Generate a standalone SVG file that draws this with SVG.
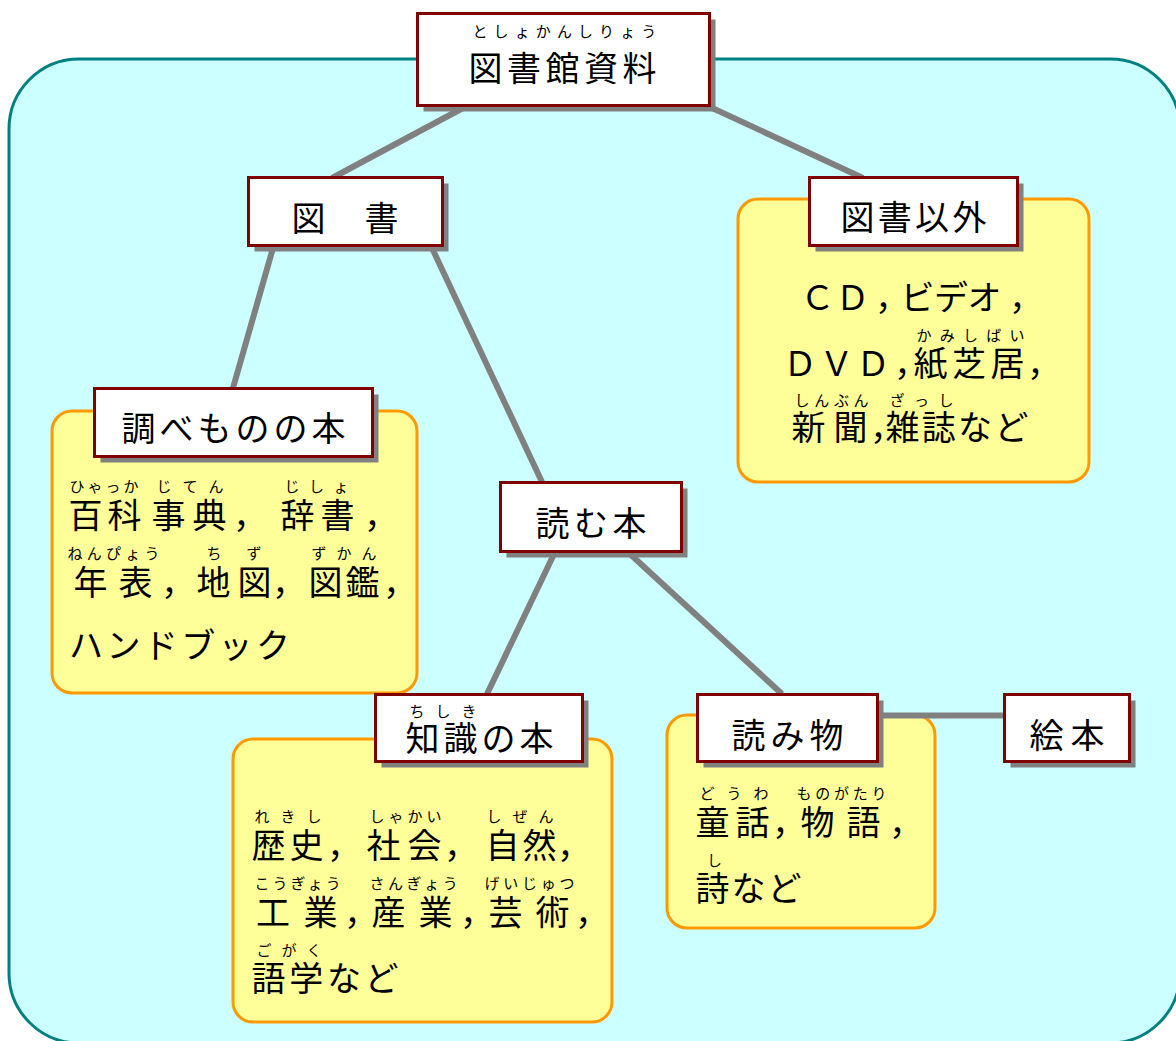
<svg xmlns="http://www.w3.org/2000/svg" width="1176" height="1041" viewBox="0 0 1176 1041">
<style>
text { font-family: "Noto Sans CJK JP", "Noto Sans", sans-serif; fill: #000; }
.m { font-size: 34px; }
.r { font-size: 15px; }
.panel { fill: #FFFF99; stroke: #FF9900; stroke-width: 3; }
.box { fill: #FFFFFF; stroke: #800000; stroke-width: 3; }
.shadow { fill: #808080; }
.edge { stroke: #808080; stroke-width: 6; fill: none; }
</style>
<rect x="0" y="0" width="1176" height="1041" fill="#FFFFFF"/>
<rect id="background" x="9" y="59" width="1171" height="984" rx="70" fill="#CCFFFF" stroke="#008080" stroke-width="3"/>

<g id="panel-shirabemono">
<rect class="panel" x="52" y="411" width="365" height="282" rx="20"/>
<text class="r" y="492"><tspan x="69.5" letter-spacing="3">ひゃっか</tspan><tspan x="156.5" letter-spacing="11">じてん</tspan><tspan x="284.5" letter-spacing="9.5">じしょ</tspan></text>
<text class="m" y="528"><tspan x="68.5" letter-spacing="5">百科</tspan><tspan x="151.5" letter-spacing="7">事典</tspan><tspan x="233">，</tspan><tspan x="280.5" letter-spacing="6">辞書</tspan><tspan x="364">，</tspan></text>
<text class="r" y="559"><tspan x="67.5" letter-spacing="4.25">ねんぴょう</tspan><tspan x="206.5" letter-spacing="25">ちず</tspan><tspan x="311.5" letter-spacing="10">ずかん</tspan></text>
<text class="m" y="595"><tspan x="73.5">年</tspan><tspan x="118.5">表</tspan><tspan x="161">，</tspan><tspan x="196.5" letter-spacing="7">地図</tspan><tspan x="272">，</tspan><tspan x="308.5" letter-spacing="3">図鑑</tspan><tspan x="383">，</tspan></text>
<text class="m" y="658" x="69" letter-spacing="3.4">ハンドブック</text>
</g>

<g id="panel-toshoigai">
<rect class="panel" x="738" y="199" width="351" height="283" rx="20"/>
<text class="m" y="310"><tspan x="800.5" letter-spacing="1">ＣＤ</tspan><tspan x="875">，</tspan><tspan x="900.5" letter-spacing="-0.5">ビデオ</tspan><tspan x="1009">，</tspan></text>
<text class="r" y="341" x="916.5" letter-spacing="8.25">かみしばい</text>
<text class="m" y="376"><tspan x="783" letter-spacing="2.5">ＤＶＤ</tspan><tspan x="894">，</tspan><tspan x="913.5" letter-spacing="4.5">紙芝居</tspan><tspan x="1027">，</tspan></text>
<text class="r" y="406"><tspan x="794.5" letter-spacing="4.7">しんぶん</tspan><tspan x="889.5" letter-spacing="9.5">ざっし</tspan></text>
<text class="m" y="440"><tspan x="791.5" letter-spacing="8">新聞</tspan><tspan x="870">，</tspan><tspan x="885.5" letter-spacing="2.3">雑誌など</tspan></text>
</g>

<g id="panel-chishiki">
<rect class="panel" x="233" y="739" width="379" height="283" rx="20"/>
<text class="r" y="822"><tspan x="254.5" letter-spacing="11">れきし</tspan><tspan x="369.5" letter-spacing="4">しゃかい</tspan><tspan x="486.5" letter-spacing="11">しぜん</tspan></text>
<text class="m" y="858"><tspan x="251.5" letter-spacing="4">歴史</tspan><tspan x="327">，</tspan><tspan x="366.5" letter-spacing="7">社会</tspan><tspan x="444">，</tspan><tspan x="485.5" letter-spacing="3">自然</tspan><tspan x="557">，</tspan></text>
<text class="r" y="889"><tspan x="254.5" letter-spacing="3">こうぎょう</tspan><tspan x="369.5" letter-spacing="3.5">さんぎょう</tspan><tspan x="484.5" letter-spacing="3.75">げいじゅつ</tspan></text>
<text class="m" y="925"><tspan x="256">工</tspan><tspan x="303.5">業</tspan><tspan x="344">，</tspan><tspan x="371.5">産</tspan><tspan x="418.5">業</tspan><tspan x="460">，</tspan><tspan x="488.5">芸</tspan><tspan x="535.5">術</tspan><tspan x="575">，</tspan></text>
<text class="r" y="956" x="256.5" letter-spacing="10">ごがく</text>
<text class="m" y="991" x="251.5" letter-spacing="3.7">語学など</text>
</g>

<g id="panel-yomimono">
<rect class="panel" x="667" y="715" width="268" height="213" rx="20"/>
<text class="r" y="799"><tspan x="699.5" letter-spacing="12">どうわ</tspan><tspan x="796.5" letter-spacing="3.75">ものがたり</tspan></text>
<text class="m" y="835"><tspan x="695.5" letter-spacing="6">童話</tspan><tspan x="772">，</tspan><tspan x="800.5">物</tspan><tspan x="846.5">語</tspan><tspan x="889">，</tspan></text>
<text class="r" y="866" x="707">し</text>
<text class="m" y="901" x="695.5" letter-spacing="2">詩など</text>
</g>

<g id="connectors">
<line class="edge" x1="463" y1="108" x2="332" y2="178"/>
<line class="edge" x1="710" y1="107" x2="863" y2="178"/>
<line class="edge" x1="273" y1="248" x2="233" y2="388"/>
<line class="edge" x1="432" y1="248" x2="542" y2="482"/>
<line class="edge" x1="555" y1="552" x2="487" y2="694"/>
<line class="edge" x1="630" y1="554" x2="782" y2="694"/>
<line class="edge" x1="878" y1="715.5" x2="1004" y2="715.5"/>
</g>

<g id="node-toshokan-shiryo">
<rect class="shadow" x="423.5" y="19.5" width="292" height="92"/>
<rect class="box" x="417.5" y="13.5" width="292" height="92"/>
<text class="r" x="472.5" y="37" letter-spacing="6.1">としょかんしりょう</text>
<text class="m" x="468.5" y="81" letter-spacing="4.5">図書館資料</text>
</g>

<g id="node-tosho">
<rect class="shadow" x="254.5" y="183.5" width="194" height="68"/>
<rect class="box" x="248.5" y="177.5" width="194" height="68"/>
<text class="m" x="291.5" y="231" letter-spacing="2.5">図　書</text>
</g>

<g id="node-tosho-igai">
<rect class="shadow" x="815.5" y="183.5" width="208" height="68"/>
<rect class="box" x="809.5" y="177.5" width="208" height="68"/>
<text class="m" x="840.5" y="230" letter-spacing="3.3">図書以外</text>
</g>

<g id="node-shirabemono">
<rect class="shadow" x="100.5" y="394.5" width="278" height="68"/>
<rect class="box" x="94.5" y="388.5" width="278" height="68"/>
<text class="m" x="121.5" y="441" letter-spacing="4">調べものの本</text>
</g>

<g id="node-yomu-hon">
<rect class="shadow" x="506.5" y="488.5" width="181" height="69"/>
<rect class="box" x="500.5" y="482.5" width="181" height="69"/>
<text class="m" x="535.5" y="536" letter-spacing="4.5">読む本</text>
</g>

<g id="node-chishiki">
<rect class="shadow" x="381.5" y="700.5" width="207" height="67"/>
<rect class="box" x="375.5" y="694.5" width="207" height="67"/>
<text class="r" x="409.5" y="717" letter-spacing="11">ちしき</text>
<text class="m" x="405.5" y="751" letter-spacing="4">知識の本</text>
</g>

<g id="node-yomimono">
<rect class="shadow" x="703.5" y="700.5" width="180" height="67"/>
<rect class="box" x="697.5" y="694.5" width="180" height="67"/>
<text class="m" x="731.5" y="748" letter-spacing="5">読み物</text>
</g>

<g id="node-ehon">
<rect class="shadow" x="1010.5" y="700.5" width="125" height="67"/>
<rect class="box" x="1004.5" y="694.5" width="125" height="67"/>
<text class="m" x="1029.5" y="748" letter-spacing="7">絵本</text>
</g>
</svg>
